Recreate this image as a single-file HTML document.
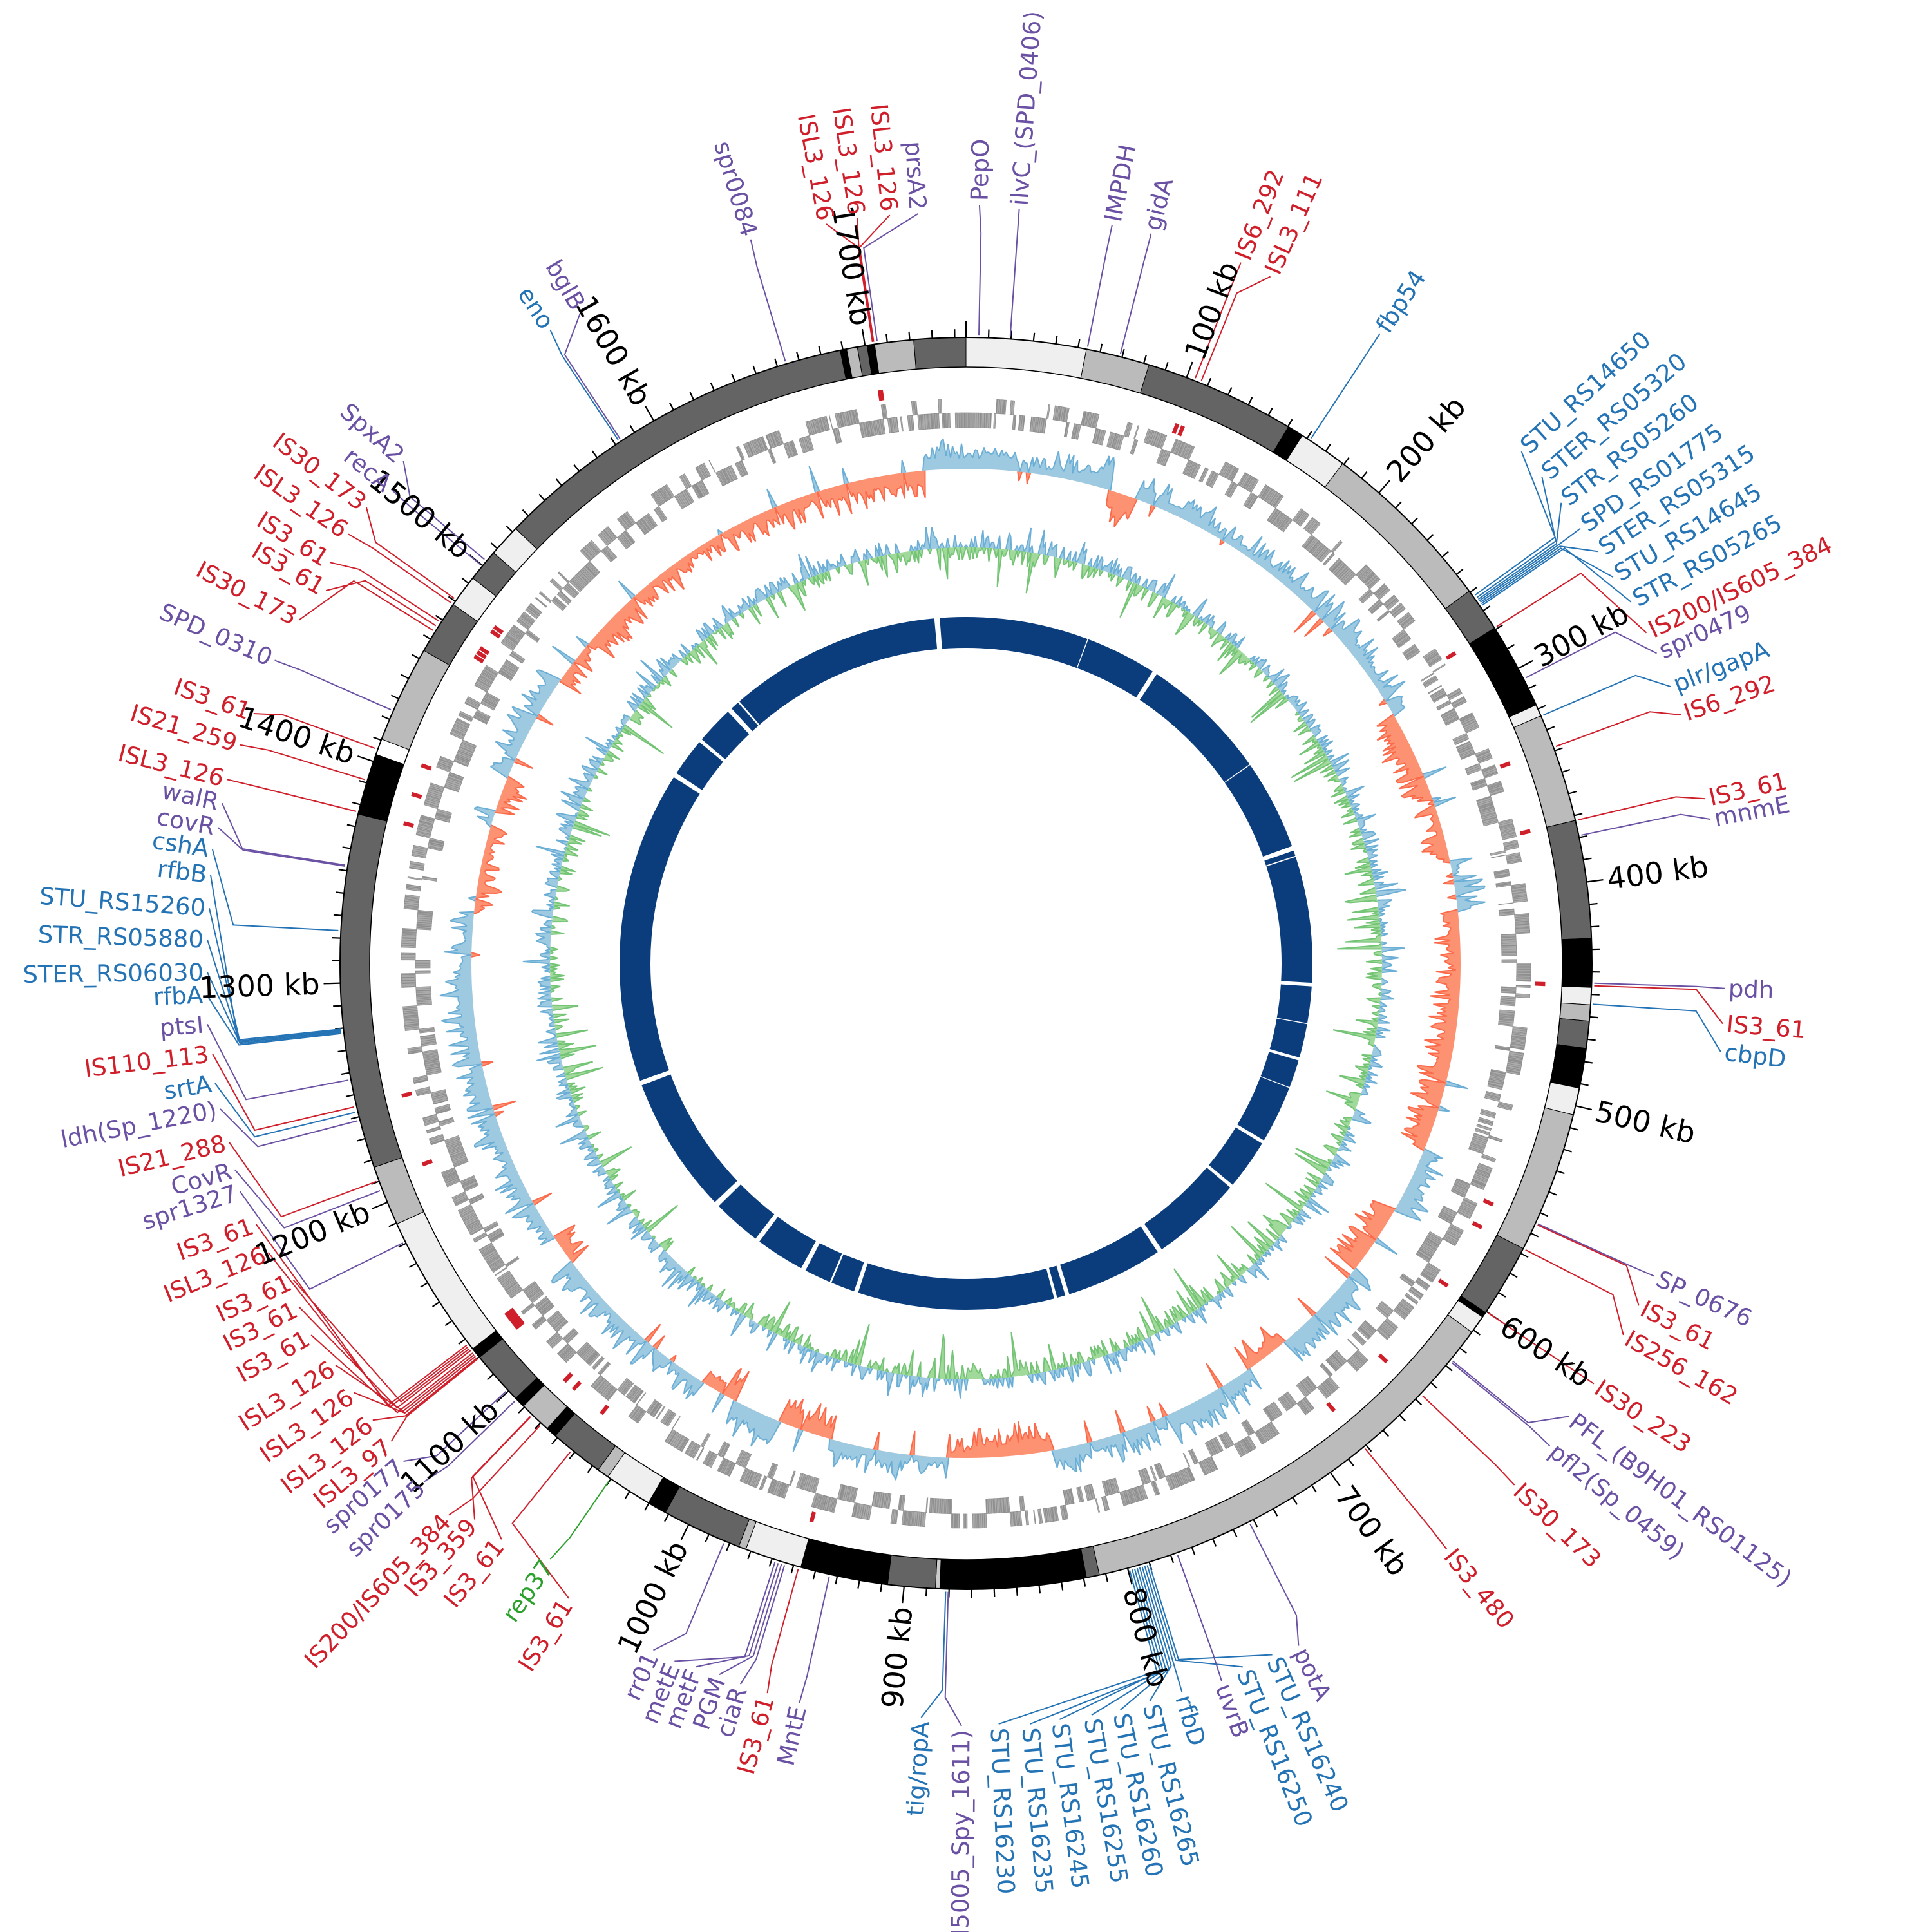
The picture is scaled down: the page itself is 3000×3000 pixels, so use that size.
<!DOCTYPE html>
<html><head><meta charset="utf-8"><style>html,body{margin:0;padding:0;background:#fff}svg{display:block}</style></head>
<body>
<svg id="s" xmlns="http://www.w3.org/2000/svg" width="3000" height="3000" viewBox="0 0 3000 3000">
<rect width="3000" height="3000" fill="#fff"/>
<g id="tracks"></g>
<g id="leaders" fill="none" stroke-width="2"></g>
<g id="ticks" font-family="DejaVu Sans, Liberation Sans, sans-serif" font-size="46" fill="#000">
<text class="tk" k="100">100 kb</text><text class="tk" k="200">200 kb</text><text class="tk" k="300">300 kb</text>
<text class="tk" k="400">400 kb</text><text class="tk" k="500">500 kb</text><text class="tk" k="600">600 kb</text>
<text class="tk" k="700">700 kb</text><text class="tk" k="800">800 kb</text><text class="tk" k="900">900 kb</text>
<text class="tk" k="1000">1000 kb</text><text class="tk" k="1100">1100 kb</text><text class="tk" k="1200">1200 kb</text>
<text class="tk" k="1300">1300 kb</text><text class="tk" k="1400">1400 kb</text><text class="tk" k="1500">1500 kb</text>
<text class="tk" k="1600">1600 kb</text><text class="tk" k="1700">1700 kb</text>
</g>
<g id="labels" font-family="DejaVu Sans, Liberation Sans, sans-serif" font-size="37">
<text x="1164" y="366" fill="#6a51a3" f="1218,556">spr0084</text>
<text x="1282" y="342" fill="#cf1f2b" f="1355,533">ISL3_126</text>
<text x="1330" y="333" fill="#cf1f2b" f="1356,533">ISL3_126</text>
<text x="1381" y="328" fill="#cf1f2b" f="1357,533">ISL3_126</text>
<text x="1425" y="326" fill="#6a51a3" f="1362,530">prsA2</text>
<text x="1521" y="312" fill="#6a51a3" f="1520,520">PepO</text>
<text x="1583" y="319" fill="#6a51a3" f="1569,518">ilvC_(SPD_0406)</text>
<text x="1728" y="344" fill="#6a51a3" f="1690,533">IMPDH</text>
<text x="1789" y="357" fill="#6a51a3" f="1741,545">gidA</text>
<text x="1929" y="402" fill="#cf1f2b" f="1859,580">IS6_292</text>
<text x="1975" y="424" fill="#cf1f2b" f="1868,585">ISL3_111</text>
<text x="2146" y="513" fill="#2473b5" f="2037,679">fbp54</text>
<text x="2367" y="697" fill="#2473b5" f="2296,920">STU_RS14650</text>
<text x="2399" y="737" fill="#2473b5" f="2300,923">STER_RS05320</text>
<text x="2429" y="777" fill="#2473b5" f="2302,926">STR_RS05260</text>
<text x="2459" y="817" fill="#2473b5" f="2304,928">SPD_RS01775</text>
<text x="2486" y="853" fill="#2473b5" f="2306,930">STER_RS05315</text>
<text x="2510" y="893" fill="#2473b5" f="2308,932">STU_RS14645</text>
<text x="2538" y="932" fill="#2473b5" f="2310,934">STR_RS05265</text>
<text x="2562" y="980" fill="#cf1f2b" f="2332,968">IS200/IS605_384</text>
<text x="2578" y="1012" fill="#6a51a3" f="2378,1048">spr0479</text>
<text x="2600" y="1064" fill="#2473b5" f="2402,1108">plr/gapA</text>
<text x="2616" y="1108" fill="#cf1f2b" f="2424,1156">IS6_292</text>
<text x="2654" y="1239" fill="#cf1f2b" f="2459,1271">IS3_61</text>
<text x="2662" y="1271" fill="#6a51a3" f="2464,1295">mnmE</text>
<text x="2684" y="1535" fill="#6a51a3" f="2483,1527">pdh</text>
<text x="2681" y="1590" fill="#cf1f2b" f="2483,1531">IS3_61</text>
<text x="2678" y="1634" fill="#2473b5" f="2483,1560">cbpD</text>
<text x="2574" y="1984" fill="#6a51a3" f="2398,1905">SP_0676</text>
<text x="2550" y="2030" fill="#cf1f2b" f="2398,1907">IS3_61</text>
<text x="2526" y="2076" fill="#cf1f2b" f="2377,1945">IS256_162</text>
<text x="2480" y="2152" fill="#cf1f2b" f="2320,2045">IS30_223</text>
<text x="2441" y="2203" fill="#6a51a3" f="2265,2121">PFL_(B9H01_RS01125)</text>
<text x="2411" y="2249" fill="#6a51a3" f="2263,2123">pfl2(Sp_0459)</text>
<text x="2356" y="2310" fill="#cf1f2b" f="2217,2175">IS30_173</text>
<text x="2250" y="2410" fill="#cf1f2b" f="2126,2257">IS3_480</text>
<text x="2019" y="2561" fill="#6a51a3" f="1944,2372">potA</text>
<text x="1978" y="2575" fill="#2473b5" f="1790,2446">STU_RS16240</text>
<text x="1932" y="2594" fill="#2473b5" f="1786,2446">STU_RS16250</text>
<text x="1899" y="2616" fill="#6a51a3" f="1833,2427">uvrB</text>
<text x="1837" y="2633" fill="#2473b5" f="1782,2447">rfbD</text>
<text x="1787" y="2647" fill="#2473b5" f="1778,2448">STU_RS16265</text>
<text x="1741" y="2661" fill="#2473b5" f="1774,2449">STU_RS16260</text>
<text x="1696" y="2669" fill="#2473b5" f="1770,2450">STU_RS16255</text>
<text x="1646" y="2676" fill="#2473b5" f="1766,2451">STU_RS16245</text>
<text x="1600" y="2683" fill="#2473b5" f="1762,2452">STU_RS16235</text>
<text x="1551" y="2683" fill="#2473b5" f="1758,2453">STU_RS16230</text>
<text x="1493" y="2686" fill="#6a51a3" f="1472,2484">(M5005_Spy_1611)</text>
<text x="1430" y="2673" fill="#2473b5" f="1468,2484">tig/ropA</text>
<text x="1240" y="2650" fill="#6a51a3" f="1285,2460">MntE</text>
<text x="1190" y="2635" fill="#cf1f2b" f="1236,2449">IS3_61</text>
<text x="1148" y="2621" fill="#6a51a3" f="1215,2441">ciaR</text>
<text x="1115" y="2606" fill="#6a51a3" f="1210,2440">PGM</text>
<text x="1078" y="2594" fill="#6a51a3" f="1205,2438">metF</text>
<text x="1045" y="2585" fill="#6a51a3" f="1200,2436">metE</text>
<text x="1012" y="2568" fill="#6a51a3" f="1119,2408">rr01</text>
<text x="851" y="2426" fill="#2ca02c" f="937,2312">rep37</text>
<text x="880" y="2487" fill="#cf1f2b" f="899,2238">IS3_61</text>
<text x="775" y="2395" fill="#cf1f2b" f="823,2200">IS3_61</text>
<text x="733" y="2364" fill="#cf1f2b" f="842,2181">IS3_359</text>
<text x="693" y="2357" fill="#cf1f2b" f="851,2200">IS200/IS605_384</text>
<text x="654" y="2305" fill="#6a51a3" f="794,2181">spr0175</text>
<text x="622" y="2273" fill="#6a51a3" f="784,2162">spr0177</text>
<text x="603" y="2242" fill="#cf1f2b" a="231">ISL3_97</text>
<text x="574" y="2209" fill="#cf1f2b" a="231.1">ISL3_126</text>
<text x="545" y="2166" fill="#cf1f2b" a="231.3">ISL3_126</text>
<text x="516" y="2123" fill="#cf1f2b" a="231.5">ISL3_126</text>
<text x="478" y="2076" fill="#cf1f2b" a="231.7">IS3_61</text>
<text x="459" y="2032" fill="#cf1f2b" a="232">IS3_61</text>
<text x="450" y="1990" fill="#cf1f2b" a="232.2">IS3_61</text>
<text x="411" y="1947" fill="#cf1f2b" a="232.4">ISL3_126</text>
<text x="392" y="1903" fill="#cf1f2b" a="232.6">IS3_61</text>
<text x="367" y="1852" fill="#6a51a3" a="243.6">spr1327</text>
<text x="359" y="1818" fill="#6a51a3" a="248.8">CovR</text>
<text x="350" y="1775" fill="#cf1f2b" a="249.7">IS21_288</text>
<text x="336" y="1723" fill="#6a51a3" a="255.5">ldh(Sp_1220)</text>
<text x="328" y="1683" fill="#2473b5" a="256.3">srtA</text>
<text x="324" y="1637" fill="#cf1f2b" a="256.8">IS110_113</text>
<text x="316" y="1591" fill="#6a51a3" a="259.3">ptsI</text>
<text x="315" y="1545" fill="#2473b5" a="263.6">rfbA</text>
<text x="316" y="1510" fill="#2473b5" a="263.7">STER_RS06030</text>
<text x="316" y="1459" fill="#2473b5" a="263.8">STR_RS05880</text>
<text x="319" y="1410" fill="#2473b5" a="263.9">STU_RS15260</text>
<text x="321" y="1358" fill="#2473b5" a="264">rfbB</text>
<text x="324" y="1318" fill="#2473b5" a="273">cshA</text>
<text x="333" y="1284" fill="#6a51a3" a="278.9">covR</text>
<text x="339" y="1246" fill="#6a51a3" a="279">walR</text>
<text x="347" y="1209" fill="#cf1f2b" a="284">ISL3_126</text>
<text x="367" y="1155" fill="#cf1f2b" a="287">IS21_259</text>
<text x="388" y="1106" fill="#cf1f2b" a="290">IS3_61</text>
<text x="421" y="1023" fill="#6a51a3" a="293.8">SPD_0310</text>
<text x="459" y="960" fill="#cf1f2b" a="302">IS30_173</text>
<text x="501" y="914" fill="#cf1f2b" a="302.5">IS3_61</text>
<text x="507" y="870" fill="#cf1f2b" a="303">IS3_61</text>
<text x="536" y="826" fill="#cf1f2b" a="305">ISL3_126</text>
<text x="564" y="784" fill="#cf1f2b" a="305.5">IS30_173</text>
<text x="603" y="756" fill="#6a51a3" a="309.4">recA</text>
<text x="622" y="712" fill="#6a51a3" a="310">SpxA2</text>
<text x="851" y="507" fill="#2473b5" a="326.4">eno</text>
<text x="899" y="478" fill="#6a51a3" a="326.6">bglB</text>
</g>
</svg>
<script>
(function(){
const NS='http://www.w3.org/2000/svg';
const cx=1500,cy=1496,L=1745;
function P(r,a){const t=a*Math.PI/180;return [+(cx+r*Math.sin(t)).toFixed(1),+(cy-r*Math.cos(t)).toFixed(1)];}
function sector(r1,r2,a1,a2){const p1=P(r2,a1),p2=P(r2,a2),p3=P(r1,a2),p4=P(r1,a1);const lg=(a2-a1)>180?1:0;
return 'M'+p1+'A'+r2+','+r2+' 0 '+lg+' 1 '+p2+'L'+p3+'A'+r1+','+r1+' 0 '+lg+' 0 '+p4+'Z';}
function add(par,tag,at){const e=document.createElementNS(NS,tag);for(const k in at)e.setAttribute(k,at[k]);par.appendChild(e);return e;}
let seed=12345;function rnd(){seed|=0;seed=seed+0x6D2B79F5|0;let t=Math.imul(seed^seed>>>15,1|seed);t=t+Math.imul(t^t>>>7,61|t)^t;return((t^t>>>14)>>>0)/4294967296;}
const T=document.getElementById('tracks');

const D='#646464',B='#000',G='#bbbbbb',V='#efefef';
const segs=[[0,11.1,V],[11.1,17,G],[17,31,D],[31,32.5,B],[32.5,37,V],[37,53.5,G],[53.5,57.6,D],[57.6,65.6,B],[65.6,66.7,V],[66.7,76.8,G],[76.8,87.7,D],[87.7,92.2,B],[92.2,93.8,V],[93.8,95.3,G],[95.3,97.8,D],[97.8,101.5,B],[101.5,104,V],[104,117.1,G],[117.1,123.9,D],[123.9,124.4,B],[124.4,126.1,V],[126.1,167.7,G],[167.7,168.9,D],[168.9,182.4,B],[182.4,182.8,'#ccc'],[182.8,187.2,D],[187.2,195.3,B],[195.3,200.6,V],[200.6,201.3,G],[201.3,208.7,D],[208.7,210.5,B],[210.5,214.9,V],[214.9,216,G],[216,221,D],[221,222,B],[222,225,G],[225,226,B],[226,231,D],[231,232,B],[232,245.4,V],[245.4,251,G],[251,283.8,D],[283.8,289.5,B],[289.5,291,'#fff'],[291,300,G],[300,305,D],[305,308,V],[308,311,D],[311,314,V],[314,348.4,D],[348.4,349,B],[349,350,G],[350,350.9,D],[350.9,351.6,B],[351.6,355.2,G],[355.2,360,D]];
segs.forEach(s=>add(T,'path',{d:sector(926,972,s[0],s[1]),fill:s[2],stroke:'#000','stroke-width':1}));
add(T,'circle',{cx:cx,cy:cy,r:972,fill:'none',stroke:'#000','stroke-width':2});
add(T,'circle',{cx:cx,cy:cy,r:926,fill:'none',stroke:'#000','stroke-width':1.5});
let td='';for(let k=0;k<L;k+=10){const a=k/L*360;const r2=(k%100==0)?998:985;td+='M'+P(972,a)+'L'+P(r2,a);}
add(T,'path',{d:td,stroke:'#000','stroke-width':2.2,fill:'none'});

let gOut='',gIn='';
let a=0,lane=0,run=0;
while(a<360){if(run<=0){lane=1-lane;run=2+Math.floor(rnd()*20);}
 const len=0.03+rnd()*0.18;const gap=rnd()<0.04?0.2+rnd()*0.5:rnd()*0.02;
 const a2=Math.min(360,a+len);
 if(lane==0)gOut+=sector(855,877,a,a2);else gIn+=sector(832,855,a,a2);
 a=a2+gap;run--;}
add(T,'path',{d:gOut,fill:'#ababab',stroke:'#8e8e8e','stroke-width':0.8});
add(T,'path',{d:gIn,fill:'#ababab',stroke:'#8e8e8e','stroke-width':0.8});

const red=[[305,355],[17,20],[60,78],[84,112],[120,128],[140,145],[170,182],[196,202],[208,212],[233,236],[276,286],[288,292]];
function inR(x){return red.some(r=>x>=r[0]&&x<=r[1]);}
function area(base,vals,posCol,posStroke,negCol,negStroke,step){
 let sp='',sn='';let ptsP=[],ptsN=[];
 for(let i=0;i<vals.length;i++){const ang=i*step,v=vals[i];
  ptsP.push(P(base+Math.max(v,0),ang));ptsN.push(P(base+Math.min(v,0),ang));}
 ptsP.push(ptsP[0]);ptsN.push(ptsN[0]);
 const inner='M'+P(base,0)+'A'+base+','+base+' 0 1 0 '+P(base,180)+'A'+base+','+base+' 0 1 0 '+P(base,0)+'Z';
 const pp='M'+ptsP.join('L')+'Z'+inner,pn='M'+ptsN.join('L')+'Z'+inner;
 for(let i=0;i<vals.length;i++){const j=(i+1)%vals.length;
  if(vals[i]>0||vals[j]>0)sp+='M'+ptsP[i]+'L'+ptsP[i+1];
  if(vals[i]<0||vals[j]<0)sn+='M'+ptsN[i]+'L'+ptsN[i+1];}
 add(T,'path',{d:pp,fill:posCol,'fill-rule':'evenodd'});
 add(T,'path',{d:pn,fill:negCol,'fill-rule':'evenodd'});
 add(T,'path',{d:sp,fill:'none',stroke:posStroke,'stroke-width':2});
 add(T,'path',{d:sn,fill:'none',stroke:negStroke,'stroke-width':2});
}
const N=1440,st=360/N;
let sm=[];let acc=0.5;for(let i=0;i<N;i++){acc+=(rnd()-0.5)*0.25;acc=Math.max(0.1,Math.min(1,acc));sm.push(acc);}
let v1=[];
for(let i=0;i<N;i++){const ang=i*st;let s=inR(ang)?-1:1;if(rnd()<0.03)s=-s;
 const q=rnd();let m=5+sm[i]*18+q*q*32;v1.push(s*Math.min(m,55));}
area(768,v1,'#9ecae1','#6baed6','#fc9272','#fb6a4a',st);
let v2=[];
for(let i=0;i<N;i++){const ang=i*st;const left=(ang>215&&ang<335);
 let pb=left?0.72:0.5;let v;
 if(rnd()<pb){v=3+rnd()*18+(rnd()<0.18?rnd()*28:0);}else{v=-(3+rnd()*22+(rnd()<0.15?rnd()*55:0));}
 v2.push(v);}
area(646,v2,'#9ecae1','#6baed6','#a1d99b','#74c476',st);

add(T,'circle',{cx:cx,cy:cy,r:514,fill:'none',stroke:'#0b3d7d','stroke-width':48});
const gaps=[[355.2,0.9],[20.6,0.15],[33,0.8],[55,0.15],[70.6,0.8],[72,0.2],[93.5,0.6],[100,0.15],[106,0.5],[111,0.15],[121,0.6],[130,0.6],[146,0.8],[163,0.7],[165,0.5],[198.5,0.7],[203,0.3],[208,0.8],[217,0.8],[226,0.9],[249.8,0.8],[302.9,0.8],[310,0.6],[317,0.8],[319,0.3]];
gaps.forEach(g=>add(T,'path',{d:sector(486,542,g[0]-g[1]/2,g[0]+g[1]/2),fill:'#fff'}));

document.querySelectorAll('#ticks text').forEach(t=>{
 const k=+t.getAttribute('k');const ang=k/L*360;const p=P(1004,ang);
 const left=ang>180;
 t.setAttribute('x',p[0]);t.setAttribute('y',p[1]);
 t.setAttribute('text-anchor',left?'end':'start');t.setAttribute('dominant-baseline','central');
 t.setAttribute('transform','rotate('+(left?ang+90:ang-90)+' '+p[0]+' '+p[1]+')');
});
const LG=document.getElementById('leaders');
document.querySelectorAll('#labels text').forEach(t=>{
 const x=+t.getAttribute('x'),y=+t.getAttribute('y');
 const dx=x-cx,dy=y-cy;let phi=Math.atan2(dx,-dy)*180/Math.PI;if(phi<0)phi+=360;const R=Math.hypot(dx,dy);
 const left=phi>180;
 t.setAttribute('text-anchor',left?'end':'start');t.setAttribute('dominant-baseline','central');
 t.setAttribute('transform','rotate('+(left?phi+90:phi-90)+' '+x+' '+y+')');
 let th;const f=t.getAttribute('f');
 if(f){const q=f.split(',').map(Number);th=Math.atan2(q[0]-cx,-(q[1]-cy))*180/Math.PI;if(th<0)th+=360;}else th=+t.getAttribute('a');
 const col=t.getAttribute('fill');
 const rk=Math.max(1000,R-50);
 const p0=P(976,th),p1=P(rk,th),p2=P(R-6,phi);
 add(LG,'polyline',{points:p0+' '+p1+' '+p2,stroke:col});
 if(col=='#cf1f2b'){add(T,'path',{d:sector(884,900,th-0.2,th+0.2),fill:'#cf1f2b'});}
});
})();
</script>
</body></html>
